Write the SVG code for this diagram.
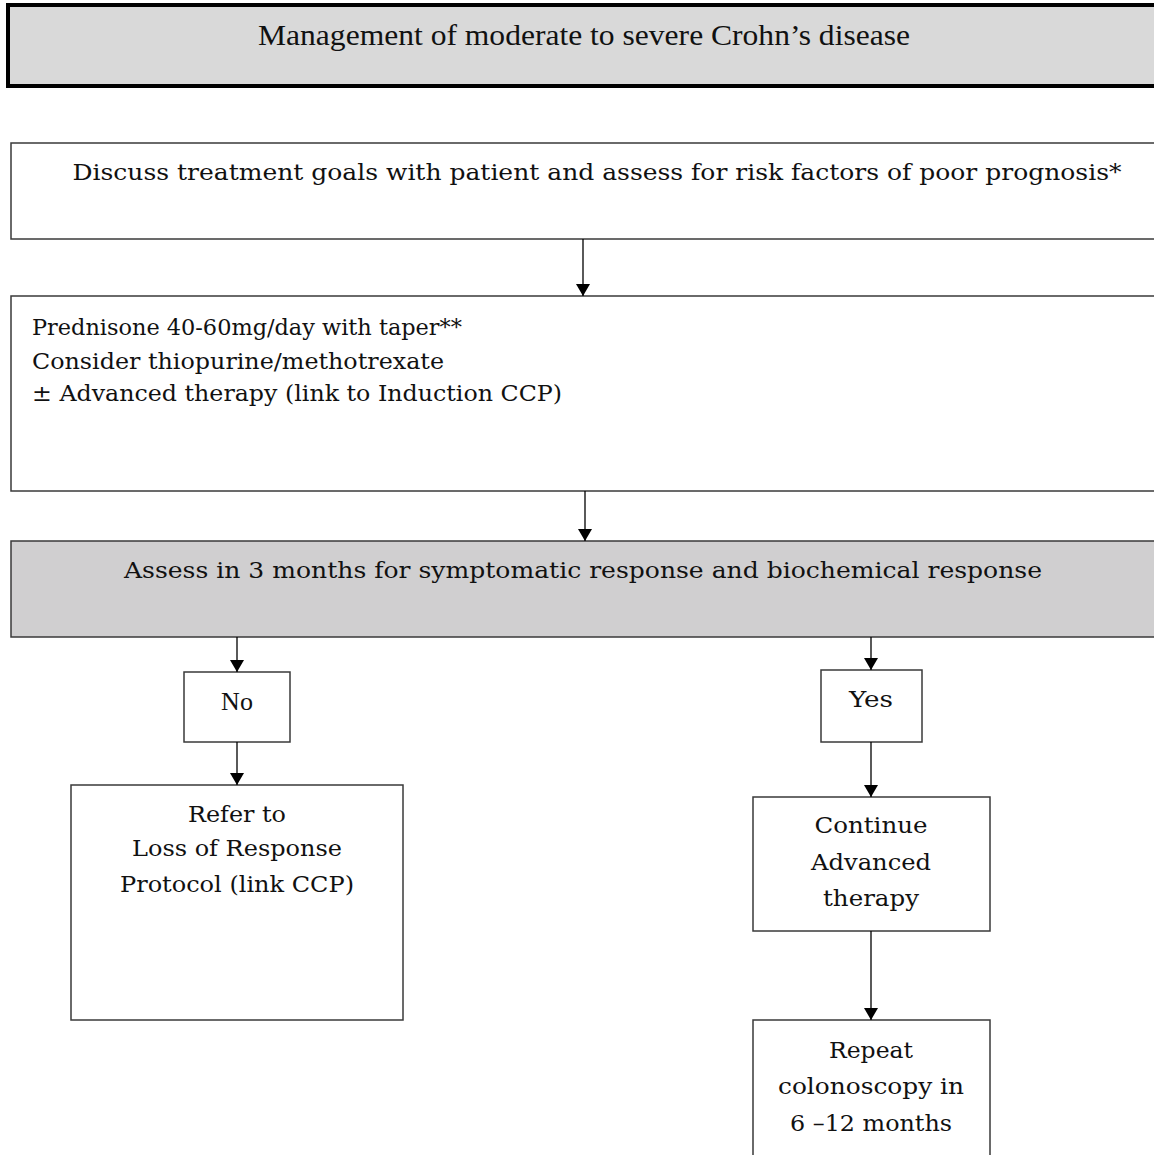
<svg xmlns="http://www.w3.org/2000/svg" width="1154" height="1155" viewBox="0 0 1154 1155">
<defs>
<marker id="ah" viewBox="0 0 12 14" refX="12" refY="7" markerWidth="12" markerHeight="14" markerUnits="userSpaceOnUse" orient="auto">
<path d="M0,0 L12,7 L0,14 Z" fill="#000"/>
</marker>
<style>
.box{fill:#fff;stroke:#3a3a3a;stroke-width:1.5}
.gray{fill:#d0cfd0;stroke:#3a3a3a;stroke-width:1.5}
.t{font-family:"DejaVu Serif","Liberation Serif",serif;font-size:22.5px;fill:#111}
.c{text-anchor:middle}
.conn{stroke:#000;stroke-width:1.3;fill:none;marker-end:url(#ah)}
</style>
</defs>
<rect width="1154" height="1155" fill="#fff"/>
<g id="title">
<rect x="8" y="5" width="1160" height="81" fill="#d9d9d9" stroke="#000" stroke-width="4"/>
<text x="584" y="45" class="c" font-family="Liberation Serif, serif" font-size="29" fill="#111" textLength="652" lengthAdjust="spacingAndGlyphs">Management of moderate to severe Crohn’s disease</text>
</g>
<g id="discuss">
<rect class="box" x="11" y="143" width="1160" height="96"/>
<text class="t c" x="597" y="180" textLength="1049" lengthAdjust="spacingAndGlyphs">Discuss treatment goals with patient and assess for risk factors of poor prognosis*</text>
</g>
<g id="prednisone">
<rect class="box" x="11" y="296" width="1160" height="195"/>
<text class="t" x="32" y="335" textLength="430" lengthAdjust="spacingAndGlyphs">Prednisone 40-60mg/day with taper**</text>
<text class="t" x="32" y="369" textLength="412" lengthAdjust="spacingAndGlyphs">Consider thiopurine/methotrexate</text>
<text class="t" x="32" y="401" textLength="530" lengthAdjust="spacingAndGlyphs">± Advanced therapy (link to Induction CCP)</text>
</g>
<g id="assess">
<rect class="gray" x="11" y="541" width="1160" height="96"/>
<text class="t c" x="583" y="578" textLength="918" lengthAdjust="spacingAndGlyphs">Assess in 3 months for symptomatic response and biochemical response</text>
</g>
<g id="no">
<rect class="box" x="184" y="672" width="106" height="70"/>
<text x="237" y="710" class="c" font-family="Liberation Serif, serif" font-size="26" fill="#111">No</text>
</g>
<g id="yes">
<rect class="box" x="821" y="670" width="101" height="72"/>
<text class="t c" x="871" y="707" textLength="44" lengthAdjust="spacingAndGlyphs">Yes</text>
</g>
<g id="refer">
<rect class="box" x="71" y="785" width="332" height="235"/>
<text class="t c" x="237" y="822" textLength="98" lengthAdjust="spacingAndGlyphs">Refer to</text>
<text class="t c" x="237" y="856" textLength="210" lengthAdjust="spacingAndGlyphs">Loss of Response</text>
<text class="t c" x="237" y="892" textLength="234" lengthAdjust="spacingAndGlyphs">Protocol (link CCP)</text>
</g>
<g id="continue">
<rect class="box" x="753" y="797" width="237" height="134"/>
<text class="t c" x="871" y="833" textLength="113" lengthAdjust="spacingAndGlyphs">Continue</text>
<text class="t c" x="871" y="870" textLength="120" lengthAdjust="spacingAndGlyphs">Advanced</text>
<text class="t c" x="871" y="906" textLength="96" lengthAdjust="spacingAndGlyphs">therapy</text>
</g>
<g id="repeat">
<rect class="box" x="753" y="1020" width="237" height="150"/>
<text class="t c" x="871" y="1058" textLength="84" lengthAdjust="spacingAndGlyphs">Repeat</text>
<text class="t c" x="871" y="1094" textLength="186" lengthAdjust="spacingAndGlyphs">colonoscopy in</text>
<text class="t c" x="871" y="1131" textLength="162" lengthAdjust="spacingAndGlyphs">6 –12 months</text>
</g>
<g id="connectors">
<line class="conn" x1="583" y1="239" x2="583" y2="296"/>
<line class="conn" x1="585" y1="491" x2="585" y2="541"/>
<line class="conn" x1="237" y1="637" x2="237" y2="672"/>
<line class="conn" x1="237" y1="742" x2="237" y2="785"/>
<line class="conn" x1="871" y1="637" x2="871" y2="670"/>
<line class="conn" x1="871" y1="742" x2="871" y2="797"/>
<line class="conn" x1="871" y1="931" x2="871" y2="1020"/>
</g>
</svg>
